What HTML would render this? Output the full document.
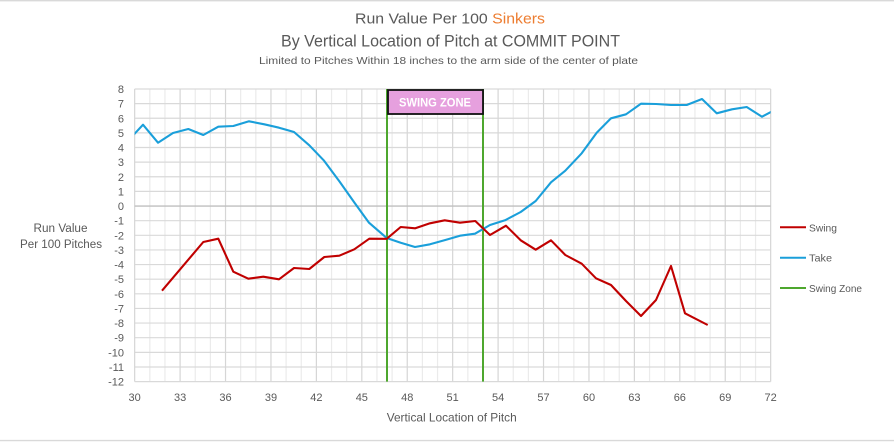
<!DOCTYPE html>
<html>
<head>
<meta charset="utf-8">
<style>
  html,body{margin:0;padding:0;background:#fff;}
  body{width:894px;height:442px;overflow:hidden;}
  svg{display:block;}
  text{font-family:"Liberation Sans", sans-serif;}
</style>
</head>
<body>
<svg width="894" height="442" viewBox="0 0 894 442" xmlns="http://www.w3.org/2000/svg">
  <rect x="0" y="0" width="894" height="442" fill="#ffffff"/>
  <!-- chart frame lines -->
  <line x1="0" y1="0.7" x2="894" y2="0.7" stroke="#d9d9d9" stroke-width="1.4"/>
  <line x1="0" y1="440.6" x2="894" y2="440.6" stroke="#d9d9d9" stroke-width="1.4"/>

  <!-- Titles -->
  <text x="355" y="23.3" font-size="15" fill="#595959" textLength="190" lengthAdjust="spacingAndGlyphs">Run Value Per 100 <tspan fill="#ED7D31">Sinkers</tspan></text>
  <text x="281" y="46.7" font-size="17" fill="#595959" textLength="339" lengthAdjust="spacingAndGlyphs">By Vertical Location of Pitch at COMMIT POINT</text>
  <text x="259" y="64" font-size="10.5" fill="#595959" textLength="379" lengthAdjust="spacingAndGlyphs">Limited to Pitches Within 18 inches to the arm side of the center of plate</text>

  <!-- minor vertical gridlines -->
  <path stroke="#ebebeb" stroke-width="1.2" fill="none" d="
    M149.81 89V381.6 M164.96 89V381.6 M195.24 89V381.6 M210.39 89V381.6
    M240.67 89V381.6 M255.81 89V381.6 M286.10 89V381.6 M301.24 89V381.6
    M331.53 89V381.6 M346.67 89V381.6 M376.96 89V381.6 M392.10 89V381.6
    M422.39 89V381.6 M437.53 89V381.6 M467.82 89V381.6 M482.96 89V381.6
    M513.25 89V381.6 M528.39 89V381.6 M558.67 89V381.6 M573.82 89V381.6
    M604.10 89V381.6 M619.25 89V381.6 M649.53 89V381.6 M664.68 89V381.6
    M694.96 89V381.6 M710.10 89V381.6 M740.39 89V381.6 M755.53 89V381.6"/>
  <!-- horizontal gridlines -->
  <path stroke="#d9d9d9" stroke-width="1.2" fill="none" d="
    M134.67 89H770.67 M134.67 103.63H770.67 M134.67 118.26H770.67 M134.67 132.89H770.67
    M134.67 147.52H770.67 M134.67 162.15H770.67 M134.67 176.78H770.67 M134.67 191.41H770.67
    M134.67 220.67H770.67 M134.67 235.3H770.67 M134.67 249.93H770.67
    M134.67 264.56H770.67 M134.67 279.19H770.67 M134.67 293.82H770.67 M134.67 308.45H770.67
    M134.67 323.08H770.67 M134.67 337.71H770.67 M134.67 352.34H770.67 M134.67 366.97H770.67
    M134.67 381.6H770.67"/>
  <!-- major vertical gridlines -->
  <path stroke="#d6d6d6" stroke-width="1.2" fill="none" d="
    M134.67 89V381.6 M180.10 89V381.6 M225.53 89V381.6 M270.96 89V381.6 M316.39 89V381.6
    M361.82 89V381.6 M407.24 89V381.6 M452.67 89V381.6 M498.10 89V381.6 M543.53 89V381.6
    M588.96 89V381.6 M634.39 89V381.6 M679.82 89V381.6 M725.25 89V381.6 M770.67 89V381.6"/>
  <!-- zero line -->
  <line x1="134.67" y1="206.04" x2="770.67" y2="206.04" stroke="#bfbfbf" stroke-width="1.3"/>

  <!-- Y tick labels -->
  <g font-size="11" fill="#595959" text-anchor="end">
    <text x="124" y="93">8</text>
    <text x="124" y="107.6">7</text>
    <text x="124" y="122.3">6</text>
    <text x="124" y="136.9">5</text>
    <text x="124" y="151.5">4</text>
    <text x="124" y="166.2">3</text>
    <text x="124" y="180.8">2</text>
    <text x="124" y="195.4">1</text>
    <text x="124" y="210">0</text>
    <text x="124" y="224.7">-1</text>
    <text x="124" y="239.3">-2</text>
    <text x="124" y="253.9">-3</text>
    <text x="124" y="268.6">-4</text>
    <text x="124" y="283.2">-5</text>
    <text x="124" y="297.8">-6</text>
    <text x="124" y="312.5">-7</text>
    <text x="124" y="327.1">-8</text>
    <text x="124" y="341.7">-9</text>
    <text x="124" y="356.3">-10</text>
    <text x="124" y="371">-11</text>
    <text x="124" y="385.6">-12</text>
  </g>

  <!-- X tick labels -->
  <g font-size="11" fill="#595959" text-anchor="middle">
    <text x="134.67" y="401">30</text>
    <text x="180.10" y="401">33</text>
    <text x="225.53" y="401">36</text>
    <text x="270.96" y="401">39</text>
    <text x="316.39" y="401">42</text>
    <text x="361.82" y="401">45</text>
    <text x="407.24" y="401">48</text>
    <text x="452.67" y="401">51</text>
    <text x="498.10" y="401">54</text>
    <text x="543.53" y="401">57</text>
    <text x="588.96" y="401">60</text>
    <text x="634.39" y="401">63</text>
    <text x="679.82" y="401">66</text>
    <text x="725.25" y="401">69</text>
    <text x="770.67" y="401">72</text>
  </g>

  <!-- Axis titles -->
  <text x="386.7" y="421.7" font-size="12" fill="#595959" textLength="130" lengthAdjust="spacingAndGlyphs">Vertical Location of Pitch</text>
  <text x="33.5" y="232" font-size="11.5" fill="#595959" textLength="54" lengthAdjust="spacingAndGlyphs">Run Value</text>
  <text x="20" y="248" font-size="11.5" fill="#595959" textLength="82" lengthAdjust="spacingAndGlyphs">Per 100 Pitches</text>

  <!-- Swing zone lines -->
  <line x1="387" y1="89" x2="387" y2="381.6" stroke="#4EA72E" stroke-width="2"/>
  <line x1="483" y1="89" x2="483" y2="381.6" stroke="#4EA72E" stroke-width="2"/>

  <defs>
    <clipPath id="plot"><rect x="134.67" y="85" width="636" height="300"/></clipPath>
  </defs>

  <!-- Take series -->
  <polyline clip-path="url(#plot)" fill="none" stroke="#1A9FDA" stroke-width="2.1" stroke-linejoin="round" points="
    126.5,142.5 143,124.7 158,142.7 173,133 188.3,129 203.3,135 218.3,126.7 233.3,126 249,121.3 264.3,124.3
    279,127.7 294,132 309.3,145.3 323.7,160.3 339.5,181.5 354.7,203 369,222.7 386.7,238 400.7,242.7 415,247
    430,244.3 445.3,240 460,235.7 475,233.7 490,225 505,220.3 520.7,212 535.7,201 551,182.3 565.3,170.7
    581.7,153.3 596.7,132.7 611,118.3 626,114.3 641,103.7 656,104 671,105 686.7,105 702,99 716.7,113.3
    732,109.3 746.7,107 762,116.7 777,108.7"/>

  <!-- Swing series -->
  <polyline fill="none" stroke="#C00000" stroke-width="2.1" stroke-linejoin="round" points="
    162,290.7 203.3,242 218.3,238.7 233.3,271.7 248.3,278.7 263.3,276.7 279,279.3 294,268 309.3,269 324.3,257
    339.3,255.7 354.3,249.3 369.3,238.7 386.7,238.8 400.7,227 415.3,228.3 430,223.3 444.7,220.3 460,222.7 475.3,221
    490,235 506,225.7 520.7,240.3 535.7,249.7 551,240.3 565.3,255 581.7,263.7 596,278.3 611,285 626,301
    641,316 656,300 671,266 685,313.3 707.7,325"/>

  <!-- Swing zone label box -->
  <rect x="388" y="90" width="95" height="24" fill="#E6A0DE" stroke="#111" stroke-width="1.8"/>
  <text x="399" y="106.3" font-size="12" font-weight="bold" fill="#ffffff" textLength="72" lengthAdjust="spacingAndGlyphs">SWING ZONE</text>

  <!-- Legend -->
  <line x1="780" y1="227.3" x2="806" y2="227.3" stroke="#C00000" stroke-width="2"/>
  <line x1="780" y1="257.7" x2="806" y2="257.7" stroke="#1A9FDA" stroke-width="2"/>
  <line x1="780" y1="288" x2="806" y2="288" stroke="#4EA72E" stroke-width="2"/>
  <g font-size="10.5" fill="#595959">
    <text x="809" y="231.3" textLength="28" lengthAdjust="spacingAndGlyphs">Swing</text>
    <text x="809" y="261.7" textLength="23" lengthAdjust="spacingAndGlyphs">Take</text>
    <text x="809" y="292" textLength="53" lengthAdjust="spacingAndGlyphs">Swing Zone</text>
  </g>
</svg>
</body>
</html>
